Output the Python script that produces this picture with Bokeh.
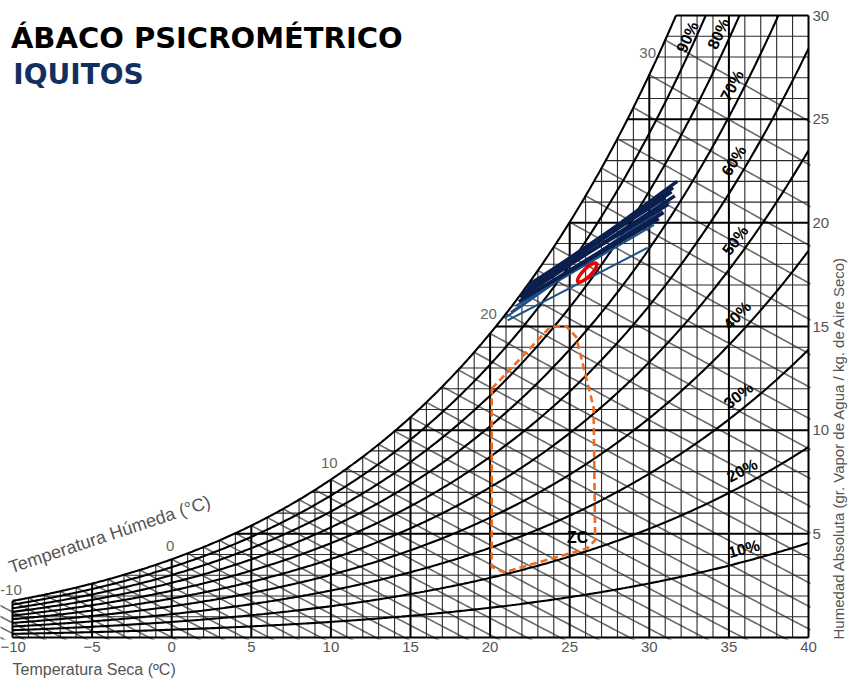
import numpy as np
from bokeh.plotting import figure
from bokeh.models import Label, Title
from bokeh.embed import file_html
from bokeh.resources import INLINE

# ---------------- data ----------------
rh_levels = [10, 20, 30, 40, 50, 60, 70, 80, 90]
rh_label_t = [35.94, 35.83, 35.6, 35.52, 35.4, 35.31, 35.2, 34.35, 32.4]
rh_label_w = [4.28, 8.06, 11.67, 15.53, 19.15, 23.0, 26.62, 29.12, 28.96]
wb_levels = list(range(-15, 32))
wb_label_levels = [-10, 0, 10, 20, 30]
x_ticks = [-10, -5, 0, 5, 10, 15, 20, 25, 30, 35, 40]
y_ticks = [5, 10, 15, 20, 25, 30]

# monthly climate lines (min -> max), Iquitos
month_t0 = [22.0, 22.3, 21.9, 22.2, 22.1, 21.8, 22.4, 22.0, 20.9, 21.1, 21.3, 21.6]
month_w0 = [16.5, 16.9, 16.4, 16.7, 16.6, 16.2, 17.0, 16.3, 15.4, 15.3, 15.7, 16.0]
month_t1 = [31.75, 31.5, 31.6, 31.2, 31.4, 30.9, 31.0, 30.6, 31.3, 29.9, 30.8, 30.3]
month_w1 = [22.0, 21.7, 21.3, 20.9, 21.5, 20.5, 21.2, 20.2, 21.0, 18.8, 20.6, 19.9]
light_months = [8, 9, 10, 11]

mean_t = [26.1]
mean_w = [17.6]

# comfort zone (ZC)
zc_t = [20.1, 21.1, 23.8, 24.8, 25.4, 26.5, 26.6, 26.1, 20.9, 20.1, 20.1]
zc_w = [12.0, 12.8, 15.0, 15.0, 14.5, 11.1, 4.7, 4.3, 3.15, 3.4, 12.0]
zc_label_t, zc_label_w = 25.5, 4.8

# ---------------- psychrometrics ----------------
P = 101.325


def psat(t):
    return 0.61094 * np.exp(17.625 * t / (t + 243.04))


def w_of(t, rh):
    pv = rh / 100.0 * psat(t)
    return 622.0 * pv / (P - pv)


t_fine = np.linspace(-12, 45, 5701)
ws_fine = w_of(t_fine, 100)


def t_sat(w):
    return float(np.interp(w, ws_fine, t_fine))


def wb_line(twb, t):
    ws = w_of(twb, 100) / 1000.0
    w = ((2501 - 2.326 * twb) * ws - 1.006 * (t - twb)) / (2501 + 1.86 * t - 4.186 * twb)
    return w * 1000.0


# ---------------- figure ----------------
PX = 796 / 50.0
PY = 622 / 30.0
p = figure(frame_width=810, frame_height=636, output_backend="svg", toolbar_location=None,
           x_range=(-10 - 12 / PX, 40 + 2 / PX), y_range=(0 - 2 / PY, 30 + 12 / PY),
           y_axis_location="right", min_border_left=0, min_border_right=0,
           min_border_top=3, min_border_bottom=0)
p.grid.visible = False
p.outline_line_color = None
p.background_fill_color = "white"
p.border_fill_color = "white"

for ax in (p.xaxis[0], p.yaxis[0]):
    ax.axis_line_color = None
    ax.major_tick_line_color = None
    ax.minor_tick_line_color = None
    ax.major_tick_out = 0
    ax.major_tick_in = 0
    ax.minor_tick_out = 0
    ax.minor_tick_in = 0
    ax.major_label_text_color = "#555555"
    ax.major_label_text_font = "Liberation Sans"
    ax.major_label_text_font_size = "15px"
p.xaxis[0].ticker = x_ticks
p.yaxis[0].ticker = y_ticks
p.xaxis[0].major_label_standoff = 2
p.yaxis[0].major_label_standoff = 2

yax = p.yaxis[0]
yax.axis_label = "Humedad Absoluta (gr. Vapor de Agua / kg. de Aire Seco)"
yax.axis_label_text_font = "Liberation Sans"
yax.axis_label_text_font_size = "15px"
yax.axis_label_text_font_style = "normal"
yax.axis_label_text_color = "#555555"
yax.axis_label_standoff = 6
props = yax.properties()
if "axis_label_orientation" in props:
    yax.axis_label_orientation = float(np.pi / 2)
if "axis_label_align" in props:
    yax.axis_label_align = "start"

p.add_layout(Title(text="Temperatura Seca (ºC)", align="left", offset=12,
                   text_font="Liberation Sans", text_font_size="16px",
                   text_font_style="normal", text_color="#555555", standoff=9), "below")

# wet-bulb lines
wb_xs, wb_ys = [], []
for twb in wb_levels:
    t = np.linspace(twb, 45, 300)
    w = wb_line(twb, t)
    keep = w >= -0.5
    wb_xs.append(list(t[keep]))
    wb_ys.append(list(w[keep]))
p.multi_line(wb_xs, wb_ys, line_color="#6a6a6a", line_width=1.6)

# grid verticals
thin_x, thin_y, thick_x, thick_y = [], [], [], []
for tv in range(-10, 41):
    top = min(float(w_of(tv, 100)), 30.0)
    if tv % 5 == 0:
        thick_x.append([tv, tv]); thick_y.append([0, top])
    else:
        thin_x.append([tv, tv]); thin_y.append([0, top])
# grid horizontals
for wv in range(0, 31):
    start = max(-10.0, t_sat(wv)) if wv > 0 else -10.0
    if wv % 5 == 0:
        thick_x.append([start, 40]); thick_y.append([wv, wv])
    else:
        thin_x.append([start, 40]); thin_y.append([wv, wv])
p.multi_line(thin_x, thin_y, line_color="#2a2a2a", line_width=1.1)
p.multi_line(thick_x, thick_y, line_color="black", line_width=2)

# RH curves and saturation
rh_xs, rh_ys = [], []
for rh in rh_levels + [100]:
    tt = np.linspace(-10, 40, 2001)
    ww = w_of(tt, rh)
    t_end = 40.0 if ww[-1] <= 30 else float(np.interp(30, ww, tt))
    t = np.linspace(-10, t_end, 400)
    rh_xs.append(list(t)); rh_ys.append(list(w_of(t, rh)))
p.multi_line(rh_xs, rh_ys, line_color="black", line_width=2.1)

# comfort zone
p.line(zc_t, zc_w, line_color="#f26a1b", line_width=2.6, line_dash="7 4")

# monthly lines
dark = [i for i in range(len(month_t0)) if i not in light_months]
p.segment([month_t0[i] for i in light_months], [month_w0[i] for i in light_months],
          [month_t1[i] for i in light_months], [month_w1[i] for i in light_months],
          line_color="#1e4f86", line_width=2)
p.segment([month_t0[i] for i in dark], [month_w0[i] for i in dark],
          [month_t1[i] for i in dark], [month_w1[i] for i in dark],
          line_color="#0b1f4f", line_width=3.5)

# mean ellipse
p.ellipse(mean_t, mean_w, width=26, height=8, angle=0.78,
          width_units="screen", height_units="screen",
          fill_alpha=0, line_color="#ee0000", line_width=3.5)

# RH labels (angle follows the local slope of each curve)
for rh, tl, wl in zip(rh_levels, rh_label_t, rh_label_w):
    dw = float(w_of(tl + 0.05, rh) - w_of(tl - 0.05, rh)) / 0.1
    ang = np.arctan(dw * PY / PX)
    p.add_layout(Label(x=tl, y=wl, text=f"{rh}%", angle=float(ang),
                       text_align="center", text_baseline="middle",
                       text_font="Liberation Sans", text_font_style="bold",
                       text_font_size="16px", text_color="black"))

# wet bulb labels
for twb in wb_label_levels:
    ws = float(w_of(twb, 100))
    dw = float(w_of(twb + 0.05, 100) - w_of(twb - 0.05, 100)) / 0.1
    ang = np.arctan(dw * PY / PX)
    dy = (8 + 15 * np.sin(ang)) / PY
    p.add_layout(Label(x=twb - 0.1, y=ws + dy, text=str(twb),
                       text_align="center", text_baseline="middle",
                       text_font="Liberation Sans", text_font_size="15px",
                       text_color="#666666"))

p.add_layout(Label(x=-3.9, y=4.97, text="Temperatura Húmeda (°C)", angle=0.32,
                   text_align="center", text_baseline="middle",
                   text_font="Liberation Sans", text_font_size="18px", text_color="#555555"))

p.add_layout(Label(x=zc_label_t, y=zc_label_w, text="ZC", text_align="center",
                   text_baseline="middle", text_font="Liberation Sans",
                   text_font_style="bold", text_font_size="16px", text_color="black"))

# titles
p.add_layout(Label(x=-10.1, y=(637 - 37) / PY, text="ÁBACO PSICROMÉTRICO",
                   text_align="left", text_baseline="alphabetic",
                   text_font="DejaVu Sans", text_font_style="bold",
                   text_font_size="29px", text_color="black"))
p.add_layout(Label(x=-9.95, y=(637 - 74) / PY, text="IQUITOS",
                   text_align="left", text_baseline="alphabetic",
                   text_font="DejaVu Sans", text_font_style="bold",
                   text_font_size="28px", text_color="#12305f"))

open("out.html", "w").write(file_html(p, INLINE))
